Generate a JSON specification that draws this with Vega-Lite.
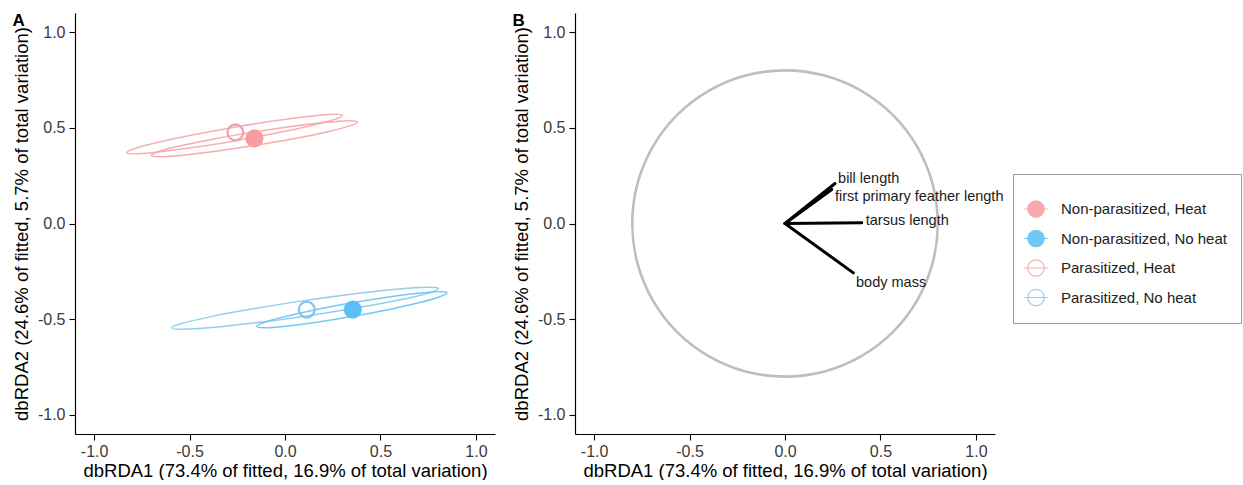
{
  "$schema": "https://vega.github.io/schema/vega-lite/v6.json",
  "padding": {"left": 12, "top": 12, "right": 0, "bottom": 0},
  "spacing": 17,
  "config": {
    "font": "Liberation Sans",
    "view": {"stroke": null},
    "axis": {
      "grid": false,
      "domainColor": "black",
      "domainWidth": 1.2,
      "tickColor": "black",
      "tickWidth": 1.1,
      "tickSize": 6,
      "labelFontSize": 16,
      "labelColor": "#3a3a3a",
      "labelFlush": false,
      "titleFontSize": 18.5,
      "titleFontWeight": "normal",
      "titleColor": "black",
      "labelExpr": "replace(format(datum.value, '.1f'), '\u2212', '-')"
    },
    "axisX": {"labelPadding": 3, "titlePadding": 2},
    "axisY": {"labelPadding": 4, "titlePadding": 6},
    "legend": {
      "labelFontSize": 15,
      "labelColor": "#222222",
      "labelLimit": 400,
      "symbolSize": 270,
      "symbolStrokeWidth": 1.2,
      "padding": 14,
      "strokeColor": "#9a9a9a",
      "fillColor": "white",
      "rowPadding": 7.5,
      "labelOffset": 16,
      "titleFontSize": 8,
      "titlePadding": 4
    }
  },
  "datasets": {
    "pts": [
      {"group": "Non-parasitized, Heat", "x": -0.16, "y": 0.445},
      {"group": "Non-parasitized, No heat", "x": 0.355, "y": -0.45},
      {"group": "Parasitized, Heat", "x": -0.26, "y": 0.476},
      {"group": "Parasitized, No heat", "x": 0.114, "y": -0.45}
    ],
    "ell": [
      {"group": "Parasitized, Heat", "o": 0, "x": 0.300, "y": 0.565},
      {"group": "Parasitized, Heat", "o": 1, "x": 0.255, "y": 0.571},
      {"group": "Parasitized, Heat", "o": 2, "x": 0.130, "y": 0.561},
      {"group": "Parasitized, Heat", "o": 3, "x": -0.054, "y": 0.537},
      {"group": "Parasitized, Heat", "o": 4, "x": -0.271, "y": 0.502},
      {"group": "Parasitized, Heat", "o": 5, "x": -0.487, "y": 0.462},
      {"group": "Parasitized, Heat", "o": 6, "x": -0.669, "y": 0.423},
      {"group": "Parasitized, Heat", "o": 7, "x": -0.789, "y": 0.391},
      {"group": "Parasitized, Heat", "o": 8, "x": -0.830, "y": 0.370},
      {"group": "Parasitized, Heat", "o": 9, "x": -0.785, "y": 0.364},
      {"group": "Parasitized, Heat", "o": 10, "x": -0.661, "y": 0.374},
      {"group": "Parasitized, Heat", "o": 11, "x": -0.476, "y": 0.398},
      {"group": "Parasitized, Heat", "o": 12, "x": -0.259, "y": 0.433},
      {"group": "Parasitized, Heat", "o": 13, "x": -0.043, "y": 0.473},
      {"group": "Parasitized, Heat", "o": 14, "x": 0.139, "y": 0.512},
      {"group": "Parasitized, Heat", "o": 15, "x": 0.259, "y": 0.544},
      {"group": "Non-parasitized, Heat", "o": 0, "x": 0.380, "y": 0.530},
      {"group": "Non-parasitized, Heat", "o": 1, "x": 0.337, "y": 0.537},
      {"group": "Non-parasitized, Heat", "o": 2, "x": 0.218, "y": 0.529},
      {"group": "Non-parasitized, Heat", "o": 3, "x": 0.042, "y": 0.508},
      {"group": "Non-parasitized, Heat", "o": 4, "x": -0.166, "y": 0.4775},
      {"group": "Non-parasitized, Heat", "o": 5, "x": -0.372, "y": 0.442},
      {"group": "Non-parasitized, Heat", "o": 6, "x": -0.546, "y": 0.406},
      {"group": "Non-parasitized, Heat", "o": 7, "x": -0.661, "y": 0.376},
      {"group": "Non-parasitized, Heat", "o": 8, "x": -0.700, "y": 0.356},
      {"group": "Non-parasitized, Heat", "o": 9, "x": -0.657, "y": 0.349},
      {"group": "Non-parasitized, Heat", "o": 10, "x": -0.538, "y": 0.357},
      {"group": "Non-parasitized, Heat", "o": 11, "x": -0.362, "y": 0.378},
      {"group": "Non-parasitized, Heat", "o": 12, "x": -0.154, "y": 0.4085},
      {"group": "Non-parasitized, Heat", "o": 13, "x": 0.052, "y": 0.444},
      {"group": "Non-parasitized, Heat", "o": 14, "x": 0.226, "y": 0.480},
      {"group": "Non-parasitized, Heat", "o": 15, "x": 0.339, "y": 0.510},
      {"group": "Parasitized, No heat", "o": 0, "x": 0.804, "y": -0.340},
      {"group": "Parasitized, No heat", "o": 1, "x": 0.749, "y": -0.333},
      {"group": "Parasitized, No heat", "o": 2, "x": 0.595, "y": -0.342},
      {"group": "Parasitized, No heat", "o": 3, "x": 0.367, "y": -0.367},
      {"group": "Parasitized, No heat", "o": 4, "x": 0.099, "y": -0.403},
      {"group": "Parasitized, No heat", "o": 5, "x": -0.168, "y": -0.446},
      {"group": "Parasitized, No heat", "o": 6, "x": -0.393, "y": -0.488},
      {"group": "Parasitized, No heat", "o": 7, "x": -0.543, "y": -0.523},
      {"group": "Parasitized, No heat", "o": 8, "x": -0.594, "y": -0.546},
      {"group": "Parasitized, No heat", "o": 9, "x": -0.539, "y": -0.553},
      {"group": "Parasitized, No heat", "o": 10, "x": -0.385, "y": -0.544},
      {"group": "Parasitized, No heat", "o": 11, "x": -0.157, "y": -0.519},
      {"group": "Parasitized, No heat", "o": 12, "x": 0.111, "y": -0.483},
      {"group": "Parasitized, No heat", "o": 13, "x": 0.378, "y": -0.440},
      {"group": "Parasitized, No heat", "o": 14, "x": 0.605, "y": -0.398},
      {"group": "Parasitized, No heat", "o": 15, "x": 0.753, "y": -0.363},
      {"group": "Non-parasitized, No heat", "o": 0, "x": 0.848, "y": -0.363},
      {"group": "Non-parasitized, No heat", "o": 1, "x": 0.808, "y": -0.356},
      {"group": "Non-parasitized, No heat", "o": 2, "x": 0.698, "y": -0.364},
      {"group": "Non-parasitized, No heat", "o": 3, "x": 0.535, "y": -0.385},
      {"group": "Non-parasitized, No heat", "o": 4, "x": 0.344, "y": -0.416},
      {"group": "Non-parasitized, No heat", "o": 5, "x": 0.154, "y": -0.452},
      {"group": "Non-parasitized, No heat", "o": 6, "x": -0.006, "y": -0.488},
      {"group": "Non-parasitized, No heat", "o": 7, "x": -0.112, "y": -0.518},
      {"group": "Non-parasitized, No heat", "o": 8, "x": -0.148, "y": -0.538},
      {"group": "Non-parasitized, No heat", "o": 9, "x": -0.108, "y": -0.545},
      {"group": "Non-parasitized, No heat", "o": 10, "x": 0.002, "y": -0.537},
      {"group": "Non-parasitized, No heat", "o": 11, "x": 0.165, "y": -0.516},
      {"group": "Non-parasitized, No heat", "o": 12, "x": 0.356, "y": -0.485},
      {"group": "Non-parasitized, No heat", "o": 13, "x": 0.546, "y": -0.449},
      {"group": "Non-parasitized, No heat", "o": 14, "x": 0.706, "y": -0.413},
      {"group": "Non-parasitized, No heat", "o": 15, "x": 0.812, "y": -0.383}
    ],
    "circ": [
      {"o": 0, "x": 0.8, "y": 0},
      {"o": 1, "x": 0.773, "y": 0.207},
      {"o": 2, "x": 0.693, "y": 0.4},
      {"o": 3, "x": 0.566, "y": 0.566},
      {"o": 4, "x": 0.4, "y": 0.693},
      {"o": 5, "x": 0.207, "y": 0.773},
      {"o": 6, "x": 0, "y": 0.8},
      {"o": 7, "x": -0.207, "y": 0.773},
      {"o": 8, "x": -0.4, "y": 0.693},
      {"o": 9, "x": -0.566, "y": 0.566},
      {"o": 10, "x": -0.693, "y": 0.4},
      {"o": 11, "x": -0.773, "y": 0.207},
      {"o": 12, "x": -0.8, "y": 0},
      {"o": 13, "x": -0.773, "y": -0.207},
      {"o": 14, "x": -0.693, "y": -0.4},
      {"o": 15, "x": -0.566, "y": -0.566},
      {"o": 16, "x": -0.4, "y": -0.693},
      {"o": 17, "x": -0.207, "y": -0.773},
      {"o": 18, "x": 0, "y": -0.8},
      {"o": 19, "x": 0.207, "y": -0.773},
      {"o": 20, "x": 0.4, "y": -0.693},
      {"o": 21, "x": 0.566, "y": -0.566},
      {"o": 22, "x": 0.693, "y": -0.4},
      {"o": 23, "x": 0.773, "y": -0.207}
    ],
    "arrows": [
      {"label": "bill length", "x0": 0, "y0": 0, "x": 0.262, "y": 0.209, "lx": 0.278, "ly": 0.230},
      {"label": "first primary feather length", "x0": 0, "y0": 0, "x": 0.245, "y": 0.178, "lx": 0.262, "ly": 0.141},
      {"label": "tarsus length", "x0": 0, "y0": 0, "x": 0.402, "y": 0.004, "lx": 0.423, "ly": 0.013},
      {"label": "body mass", "x0": 0, "y0": 0, "x": 0.358, "y": -0.258, "lx": 0.372, "ly": -0.311}
    ]
  },
  "hconcat": [
    {
      "width": 420,
      "height": 421,
      "title": {"text": "A", "anchor": "start", "frame": "bounds", "fontSize": 17, "fontWeight": "bold", "color": "black", "offset": -30, "baseline": "alphabetic"},
      "layer": [
        {
          "data": {"name": "ell"},
          "mark": {"type": "line", "interpolate": "cardinal-closed", "strokeWidth": 1.5, "opacity": 0.85},
          "encoding": {
            "x": {"field": "x", "type": "quantitative", "scale": {"domain": [-1.1, 1.1], "nice": false, "zero": false}, "axis": {"values": [-1, -0.5, 0, 0.5, 1]}, "title": "dbRDA1 (73.4% of fitted, 16.9% of total variation)"},
            "y": {"field": "y", "type": "quantitative", "scale": {"domain": [-1.1, 1.1], "nice": false, "zero": false}, "axis": {"values": [-1, -0.5, 0, 0.5, 1]}, "title": "dbRDA2 (24.6% of fitted, 5.7% of total variation)"},
            "order": {"field": "o", "type": "quantitative"},
            "stroke": {
              "field": "group", "type": "nominal",
              "scale": {"domain": ["Non-parasitized, Heat", "Non-parasitized, No heat", "Parasitized, Heat", "Parasitized, No heat"], "range": ["#F89C9E", "#5BBEF4", "#F2A2AA", "#80C6EC"]},
              "legend": {"orient": "none", "legendX": 938, "legendY": 161, "title": " ", "symbolType": "M-1.45,0H1.45M1,0A1,1 0 1,1 -1,0A1,1 0 1,1 1,0Z"}
            }
          }
        },
        {
          "data": {"name": "pts"},
          "mark": {"type": "point", "filled": false, "size": 250, "strokeWidth": 2.3, "opacity": 1},
          "encoding": {
            "x": {"field": "x", "type": "quantitative"},
            "y": {"field": "y", "type": "quantitative"},
            "stroke": {
              "field": "group", "type": "nominal",
              "scale": {"domain": ["Non-parasitized, Heat", "Non-parasitized, No heat", "Parasitized, Heat", "Parasitized, No heat"], "range": ["#F89C9E", "#5BBEF4", "#F2A2AA", "#80C6EC"]},
              "legend": {"orient": "none", "legendX": 938, "legendY": 161, "title": " ", "symbolType": "M-1.45,0H1.45M1,0A1,1 0 1,1 -1,0A1,1 0 1,1 1,0Z"}
            },
            "fill": {
              "field": "group", "type": "nominal",
              "scale": {"domain": ["Non-parasitized, Heat", "Non-parasitized, No heat", "Parasitized, Heat", "Parasitized, No heat"], "range": ["#F89C9E", "#5BBEF4", "transparent", "transparent"]},
              "legend": {"orient": "none", "legendX": 938, "legendY": 161, "title": " ", "symbolType": "M-1.45,0H1.45M1,0A1,1 0 1,1 -1,0A1,1 0 1,1 1,0Z"}
            }
          }
        }
      ]
    },
    {
      "width": 420,
      "height": 421,
      "title": {"text": "B", "anchor": "start", "frame": "bounds", "fontSize": 17, "fontWeight": "bold", "color": "black", "offset": -30, "baseline": "alphabetic"},
      "layer": [
        {
          "data": {"name": "circ"},
          "mark": {"type": "line", "interpolate": "cardinal-closed", "stroke": "#BEBEBE", "strokeWidth": 2.6},
          "encoding": {
            "x": {"field": "x", "type": "quantitative", "scale": {"domain": [-1.1, 1.1], "nice": false, "zero": false}, "axis": {"values": [-1, -0.5, 0, 0.5, 1]}, "title": "dbRDA1 (73.4% of fitted, 16.9% of total variation)"},
            "y": {"field": "y", "type": "quantitative", "scale": {"domain": [-1.1, 1.1], "nice": false, "zero": false}, "axis": {"values": [-1, -0.5, 0, 0.5, 1]}, "title": "dbRDA2 (24.6% of fitted, 5.7% of total variation)"},
            "order": {"field": "o", "type": "quantitative"}
          }
        },
        {
          "data": {"name": "arrows"},
          "mark": {"type": "rule", "color": "black", "strokeWidth": 3, "strokeCap": "round"},
          "encoding": {
            "x": {"field": "x0", "type": "quantitative"},
            "y": {"field": "y0", "type": "quantitative"},
            "x2": {"field": "x"},
            "y2": {"field": "y"}
          }
        },
        {
          "data": {"name": "arrows"},
          "mark": {"type": "text", "align": "left", "baseline": "middle", "fontSize": 14.5, "color": "#1a1a1a"},
          "encoding": {
            "x": {"field": "lx", "type": "quantitative"},
            "y": {"field": "ly", "type": "quantitative"},
            "text": {"field": "label", "type": "nominal"}
          }
        }
      ]
    }
  ]
}
